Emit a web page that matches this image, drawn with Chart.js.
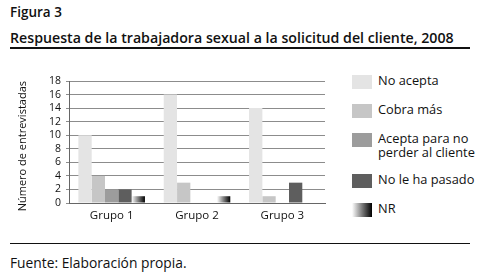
<!DOCTYPE html>
<html>
<head>
<meta charset="utf-8">
<script src="https://cdn.jsdelivr.net/npm/chart.js@4.4.1/dist/chart.umd.min.js"></script>
<style>
  body { margin: 0; width: 480px; height: 275px; background: #fff; position: relative; font-family: "Open Sans", sans-serif; color: #111; overflow: hidden; }
  #fig { position: absolute; left: 10px; top: 3px; font-size: 13.5px; font-weight: 600; }
  #title { position: absolute; left: 10px; top: 29px; width: 460px; font-size: 14.2px; font-weight: 600; white-space: nowrap; border-bottom: 2px solid #111; padding-bottom: 0px; line-height: 18px; }
  #wrap { position: absolute; left: 0; top: 60px; width: 340px; height: 170px; }
  #legend { position: absolute; left: 352px; top: 74px; display: flex; flex-direction: column; gap: 14px; font-size: 12.8px; line-height: 13.5px; }
  .item { display: flex; align-items: flex-start; }
  .box { width: 20px; height: 14px; margin-right: 6px; flex: none; margin-top: 1px; }
  #line2 { position: absolute; left: 10px; top: 243px; width: 460px; border-top: 1px solid #111; }
  #src { position: absolute; left: 10px; top: 253px; font-size: 13.8px; }
</style>
</head>
<body>
<div id="fig">Figura 3</div>
<div id="title">Respuesta de la trabajadora sexual a la solicitud del cliente, 2008</div>
<div id="wrap"><canvas id="myChart"></canvas></div>
<div id="legend"></div>
<div id="line2"></div>
<div id="src">Fuente: Elaboración propia.</div>
<script>
  let groups = ['Grupo 1', 'Grupo 2', 'Grupo 3']
  let seriesNames = ['No acepta', 'Cobra más', 'Acepta para no\nperder al cliente', 'No le ha pasado', 'NR']
  let noAcepta = [10, 16, 14]
  let cobraMas = [4, 3, 1]
  let aceptaParaNo = [2, 0, 0]
  let noLeHaPasado = [2, 0, 3]
  let nr = [1, 1, 0]
  let yTicks = [0, 2, 4, 6, 8, 10, 12, 14, 16, 18]

  let colors = ['#e4e4e4', '#c6c6c6', '#9c9c9c', '#5e5e5e', 'gradient']
  let values = [noAcepta, cobraMas, aceptaParaNo, noLeHaPasado, nr]

  // NR bars get a white-to-black horizontal gradient
  const gradientBars = {
    id: 'gradientBars',
    beforeDatasetDraw(chart, args) {
      if (args.index !== 4) return
      const ctx = chart.ctx
      args.meta.data.forEach(function (el) {
        const p = el.getProps(['x', 'y', 'base', 'width'], true)
        if (Math.abs(p.base - p.y) < 0.5) return
        const g = ctx.createLinearGradient(p.x - p.width / 2, 0, p.x + p.width / 2, 0)
        g.addColorStop(0, '#ffffff')
        g.addColorStop(0.45, '#8a8a8a')
        g.addColorStop(1, '#000000')
        ctx.save()
        ctx.fillStyle = g
        ctx.fillRect(p.x - p.width / 2, p.y, p.width, p.base - p.y)
        ctx.restore()
      })
      return false
    }
  }

  var chartArea = document.getElementById('myChart').getContext('2d')
  var myChart = new Chart(chartArea, {
    type: 'bar',
    data: {
      labels: groups,
      datasets: values.map(function (v, i) {
        return {
          label: seriesNames[i],
          data: v,
          backgroundColor: colors[i] === 'gradient' ? '#555' : colors[i],
          borderWidth: 0,
          categoryPercentage: 0.78,
          barPercentage: 1
        }
      })
    },
    options: {
      responsive: true,
      maintainAspectRatio: false,
      animation: false,
      layout: { padding: { top: 21, right: 15, left: 0, bottom: 0 } },
      plugins: {
        legend: { display: false },
        tooltip: { enabled: false }
      },
      scales: {
        x: {
          grid: { display: false, drawTicks: false },
          border: { color: '#666', width: 1 },
          ticks: { color: '#111', font: { family: 'Open Sans', size: 11.5 }, padding: 6 },
          afterFit: function (s) { s.height = 27 }
        },
        y: {
          min: 0,
          max: 18,
          afterBuildTicks: function (s) { s.ticks = yTicks.map(function (v) { return { value: v } }) },
          grid: { color: '#8c8c8c', lineWidth: 1, tickLength: 3 },
          border: { color: '#666', width: 1 },
          ticks: { color: '#111', font: { family: 'Open Sans', size: 10.5 }, padding: 5, autoSkip: false },
          afterFit: function (s) { s.width = 69 },
          title: {
            display: true,
            text: 'Número de entrevistadas',
            align: 'end',
            color: '#111',
            font: { family: 'Open Sans', size: 11 },
            padding: { top: 16, bottom: 0 }
          }
        }
      }
    },
    plugins: [gradientBars]
  })

  // html legend built from the datasets
  let legend = document.getElementById('legend')
  myChart.data.datasets.forEach(function (ds, i) {
    let item = document.createElement('div')
    item.className = 'item'
    let box = document.createElement('div')
    box.className = 'box'
    box.style.background = colors[i] === 'gradient'
      ? 'linear-gradient(to right, #ffffff, #8a8a8a 45%, #000000)'
      : colors[i]
    let txt = document.createElement('div')
    txt.innerHTML = ds.label.replace('\n', '<br>')
    item.appendChild(box)
    item.appendChild(txt)
    legend.appendChild(item)
  })
</script>
</body>
</html>
